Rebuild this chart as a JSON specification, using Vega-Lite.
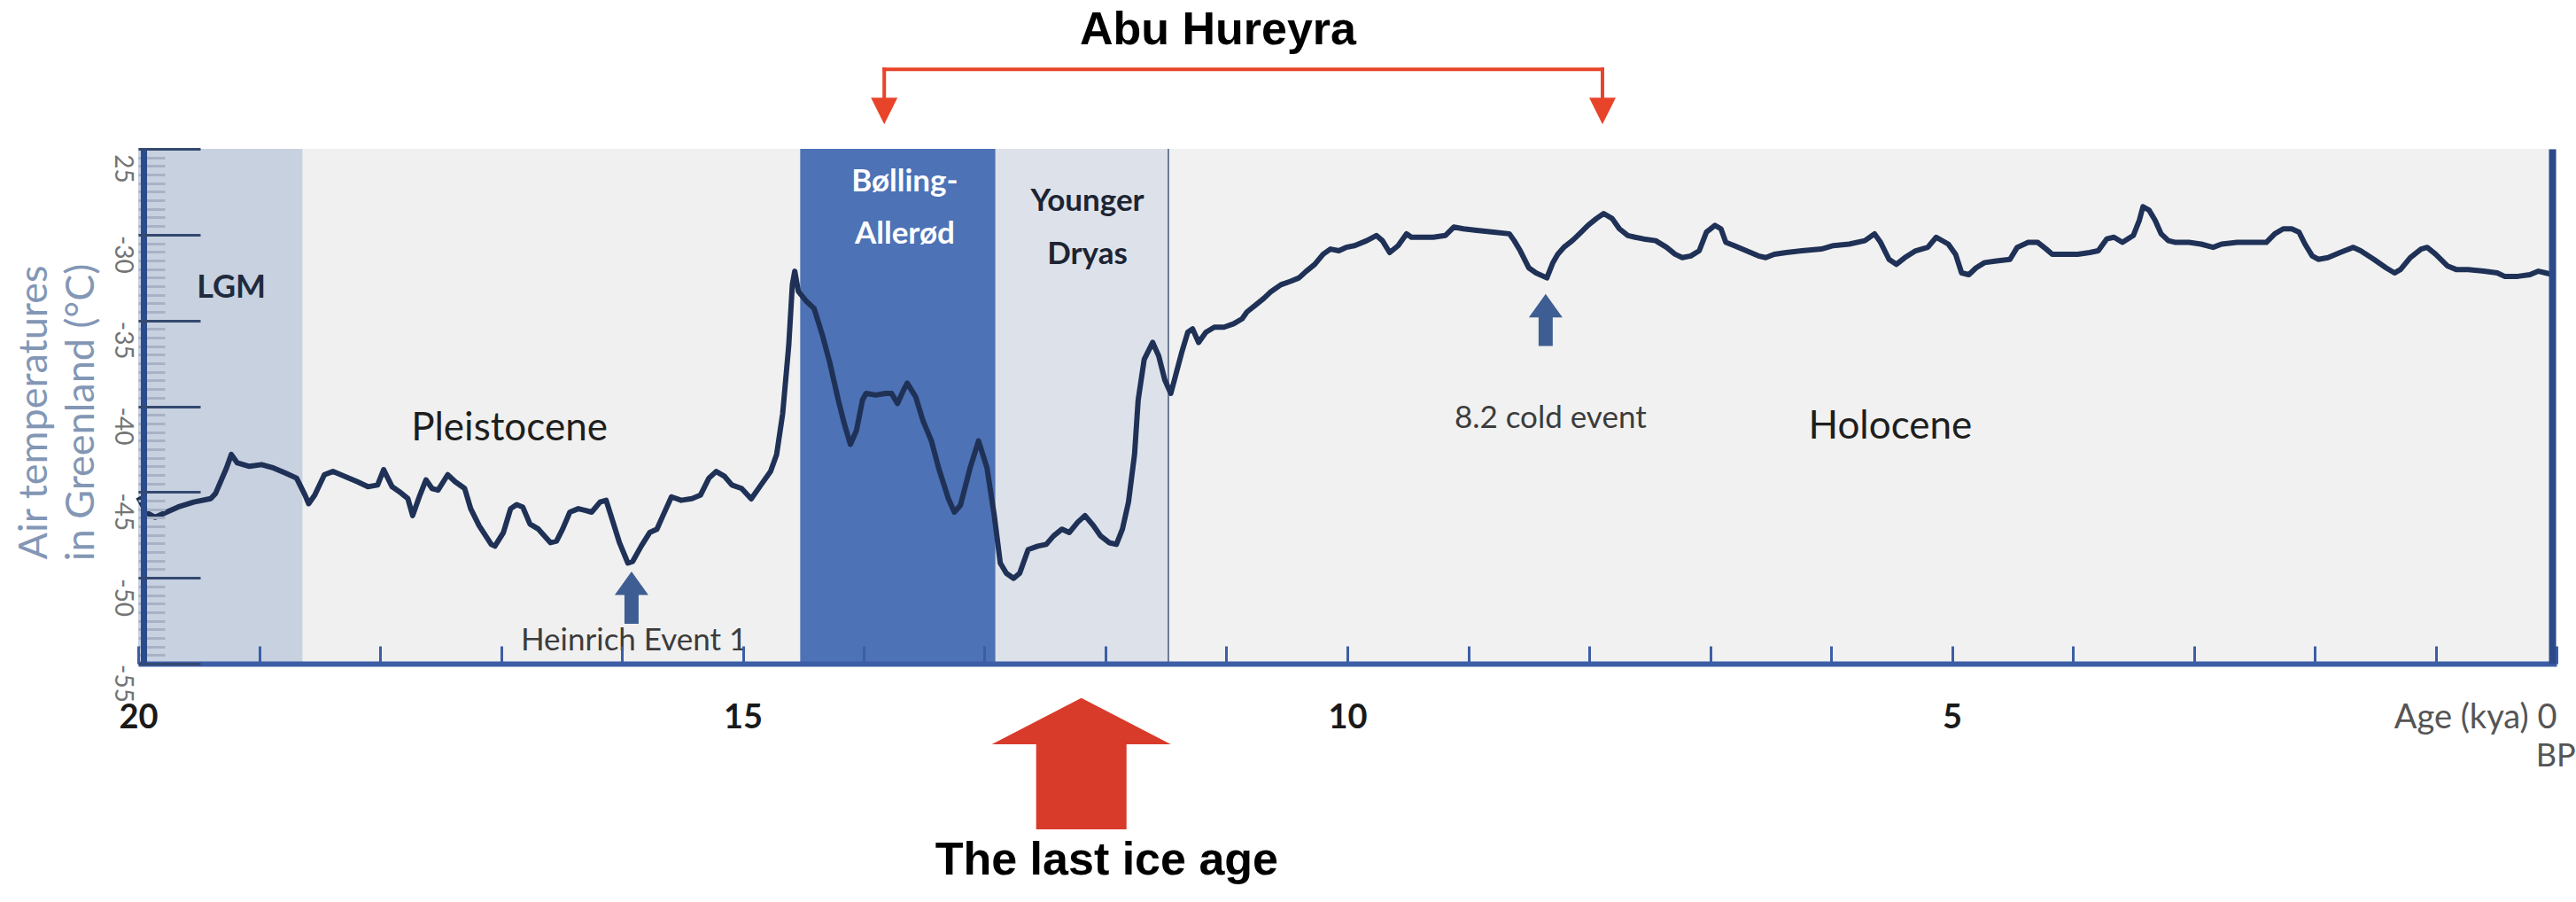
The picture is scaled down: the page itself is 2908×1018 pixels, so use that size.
{
  "$schema": "https://vega.github.io/schema/vega-lite/v6.json",
  "width": 2730,
  "height": 581,
  "autosize": {"type": "none"},
  "padding": {"left": 156, "top": 168, "right": 22, "bottom": 269},
  "background": "#ffffff",
  "config": {"view": {"fill": "#f1f1f1", "stroke": null}, "axis": {"grid": false}, "font": "Lato"},
  "datasets": {
    "periods": [
      {"period": "LGM", "start": 20, "end": 18.64},
      {"period": "Pleistocene", "start": 18.64, "end": 14.525},
      {"period": "Bølling-Allerød", "start": 14.525, "end": 12.91},
      {"period": "Younger Dryas", "start": 12.91, "end": 11.48},
      {"period": "Holocene", "start": 11.48, "end": 0}
    ],
    "temps": [
      {"age": 20.0, "temp": -45.3}, {"age": 19.93, "temp": -46.2}, {"age": 19.86, "temp": -46.47}, {"age": 19.67, "temp": -45.87},
      {"age": 19.54, "temp": -45.58}, {"age": 19.4, "temp": -45.38}, {"age": 19.36, "temp": -45.08}, {"age": 19.27, "temp": -43.6},
      {"age": 19.23, "temp": -42.81}, {"age": 19.18, "temp": -43.3}, {"age": 19.08, "temp": -43.5}, {"age": 18.98, "temp": -43.4},
      {"age": 18.88, "temp": -43.6}, {"age": 18.78, "temp": -43.9}, {"age": 18.69, "temp": -44.19}, {"age": 18.62, "temp": -45.18},
      {"age": 18.59, "temp": -45.68}, {"age": 18.54, "temp": -45.18}, {"age": 18.46, "temp": -43.99}, {"age": 18.39, "temp": -43.8},
      {"age": 18.29, "temp": -44.09}, {"age": 18.19, "temp": -44.39}, {"age": 18.1, "temp": -44.69}, {"age": 18.02, "temp": -44.59},
      {"age": 17.97, "temp": -43.7}, {"age": 17.9, "temp": -44.69}, {"age": 17.84, "temp": -44.98}, {"age": 17.77, "temp": -45.38},
      {"age": 17.73, "temp": -46.37}, {"age": 17.67, "temp": -45.18}, {"age": 17.62, "temp": -44.29}, {"age": 17.57, "temp": -44.79},
      {"age": 17.52, "temp": -44.89}, {"age": 17.44, "temp": -43.99}, {"age": 17.38, "temp": -44.39}, {"age": 17.3, "temp": -44.79},
      {"age": 17.25, "temp": -45.97}, {"age": 17.18, "temp": -46.96}, {"age": 17.08, "temp": -48.05}, {"age": 17.05, "temp": -48.15},
      {"age": 16.98, "temp": -47.36}, {"age": 16.92, "temp": -45.97}, {"age": 16.87, "temp": -45.73}, {"age": 16.82, "temp": -45.87},
      {"age": 16.76, "temp": -46.86}, {"age": 16.69, "temp": -47.16}, {"age": 16.59, "temp": -47.95}, {"age": 16.54, "temp": -47.85},
      {"age": 16.49, "temp": -47.16}, {"age": 16.43, "temp": -46.17}, {"age": 16.36, "temp": -45.97}, {"age": 16.3, "temp": -46.07},
      {"age": 16.25, "temp": -46.17}, {"age": 16.18, "temp": -45.58}, {"age": 16.13, "temp": -45.48}, {"age": 16.09, "temp": -46.37},
      {"age": 16.02, "temp": -47.95}, {"age": 15.95, "temp": -49.14}, {"age": 15.91, "temp": -49.04}, {"age": 15.84, "temp": -48.15},
      {"age": 15.77, "temp": -47.36}, {"age": 15.71, "temp": -47.16}, {"age": 15.66, "temp": -46.37}, {"age": 15.59, "temp": -45.28},
      {"age": 15.51, "temp": -45.48}, {"age": 15.42, "temp": -45.38}, {"age": 15.35, "temp": -45.18}, {"age": 15.28, "temp": -44.19},
      {"age": 15.22, "temp": -43.8}, {"age": 15.15, "temp": -44.09}, {"age": 15.09, "temp": -44.59}, {"age": 15.01, "temp": -44.79},
      {"age": 14.93, "temp": -45.4}, {"age": 14.85, "temp": -44.59}, {"age": 14.77, "temp": -43.8}, {"age": 14.72, "temp": -42.81},
      {"age": 14.67, "temp": -40.43}, {"age": 14.62, "temp": -36.48}, {"age": 14.59, "temp": -32.92}, {"age": 14.57, "temp": -32.13},
      {"age": 14.54, "temp": -33.31}, {"age": 14.47, "temp": -33.91}, {"age": 14.41, "temp": -34.3}, {"age": 14.34, "temp": -35.89},
      {"age": 14.28, "temp": -37.47}, {"age": 14.21, "temp": -39.64}, {"age": 14.16, "temp": -41.03}, {"age": 14.11, "temp": -42.22},
      {"age": 14.06, "temp": -41.42}, {"age": 14.01, "temp": -39.64}, {"age": 13.98, "temp": -39.25}, {"age": 13.9, "temp": -39.35},
      {"age": 13.82, "temp": -39.25}, {"age": 13.77, "temp": -39.25}, {"age": 13.72, "temp": -39.84}, {"age": 13.67, "temp": -39.05},
      {"age": 13.64, "temp": -38.65}, {"age": 13.57, "temp": -39.45}, {"age": 13.51, "temp": -40.83}, {"age": 13.44, "temp": -42.02},
      {"age": 13.38, "temp": -43.6}, {"age": 13.3, "temp": -45.38}, {"age": 13.25, "temp": -46.17}, {"age": 13.2, "temp": -45.77},
      {"age": 13.12, "temp": -43.6}, {"age": 13.05, "temp": -42.02}, {"age": 12.98, "temp": -43.6}, {"age": 12.92, "temp": -46.37},
      {"age": 12.87, "temp": -49.14}, {"age": 12.82, "temp": -49.73}, {"age": 12.76, "temp": -50.03}, {"age": 12.71, "temp": -49.73},
      {"age": 12.64, "temp": -48.35}, {"age": 12.56, "temp": -48.15}, {"age": 12.49, "temp": -48.05}, {"age": 12.43, "temp": -47.56},
      {"age": 12.36, "temp": -47.16}, {"age": 12.3, "temp": -47.36}, {"age": 12.23, "temp": -46.76}, {"age": 12.17, "temp": -46.37},
      {"age": 12.1, "temp": -46.96}, {"age": 12.04, "temp": -47.56}, {"age": 11.97, "temp": -47.95}, {"age": 11.91, "temp": -48.05},
      {"age": 11.86, "temp": -47.16}, {"age": 11.81, "temp": -45.58}, {"age": 11.76, "temp": -42.81}, {"age": 11.73, "temp": -39.64},
      {"age": 11.68, "temp": -37.27}, {"age": 11.61, "temp": -36.28}, {"age": 11.56, "temp": -37.07}, {"age": 11.51, "temp": -38.46},
      {"age": 11.46, "temp": -39.25}, {"age": 11.43, "temp": -38.46}, {"age": 11.37, "temp": -36.87}, {"age": 11.32, "temp": -35.69},
      {"age": 11.28, "temp": -35.49}, {"age": 11.23, "temp": -36.28}, {"age": 11.17, "temp": -35.69}, {"age": 11.1, "temp": -35.39},
      {"age": 11.02, "temp": -35.39}, {"age": 10.94, "temp": -35.19}, {"age": 10.87, "temp": -34.9}, {"age": 10.83, "temp": -34.5},
      {"age": 10.76, "temp": -34.11}, {"age": 10.69, "temp": -33.71}, {"age": 10.63, "temp": -33.31}, {"age": 10.55, "temp": -32.92},
      {"age": 10.47, "temp": -32.72}, {"age": 10.4, "temp": -32.52}, {"age": 10.34, "temp": -32.13}, {"age": 10.27, "temp": -31.73},
      {"age": 10.2, "temp": -31.14}, {"age": 10.14, "temp": -30.84}, {"age": 10.07, "temp": -30.94}, {"age": 10.01, "temp": -30.74},
      {"age": 9.94, "temp": -30.64}, {"age": 9.84, "temp": -30.35}, {"age": 9.76, "temp": -30.05}, {"age": 9.71, "temp": -30.35},
      {"age": 9.65, "temp": -31.04}, {"age": 9.58, "temp": -30.64}, {"age": 9.51, "temp": -29.95}, {"age": 9.47, "temp": -30.15},
      {"age": 9.38, "temp": -30.15}, {"age": 9.29, "temp": -30.15}, {"age": 9.19, "temp": -30.05}, {"age": 9.12, "temp": -29.56},
      {"age": 9.04, "temp": -29.66}, {"age": 8.93, "temp": -29.75}, {"age": 8.79, "temp": -29.85}, {"age": 8.66, "temp": -29.95},
      {"age": 8.62, "temp": -30.35}, {"age": 8.57, "temp": -30.94}, {"age": 8.5, "temp": -31.93}, {"age": 8.44, "temp": -32.23},
      {"age": 8.35, "temp": -32.52}, {"age": 8.3, "temp": -31.63}, {"age": 8.26, "temp": -31.14}, {"age": 8.21, "temp": -30.74},
      {"age": 8.14, "temp": -30.35}, {"age": 8.08, "temp": -29.95}, {"age": 8.01, "temp": -29.46}, {"age": 7.94, "temp": -29.06},
      {"age": 7.88, "temp": -28.77}, {"age": 7.81, "temp": -29.06}, {"age": 7.75, "temp": -29.66}, {"age": 7.68, "temp": -30.05},
      {"age": 7.62, "temp": -30.15}, {"age": 7.55, "temp": -30.25}, {"age": 7.45, "temp": -30.35}, {"age": 7.36, "temp": -30.74},
      {"age": 7.29, "temp": -31.14}, {"age": 7.23, "temp": -31.34}, {"age": 7.16, "temp": -31.24}, {"age": 7.09, "temp": -30.94},
      {"age": 7.03, "temp": -29.85}, {"age": 6.96, "temp": -29.46}, {"age": 6.91, "temp": -29.66}, {"age": 6.87, "temp": -30.45},
      {"age": 6.8, "temp": -30.64}, {"age": 6.7, "temp": -30.94}, {"age": 6.6, "temp": -31.24}, {"age": 6.54, "temp": -31.34},
      {"age": 6.47, "temp": -31.14}, {"age": 6.37, "temp": -31.04}, {"age": 6.24, "temp": -30.94}, {"age": 6.08, "temp": -30.84},
      {"age": 5.98, "temp": -30.64}, {"age": 5.85, "temp": -30.55}, {"age": 5.72, "temp": -30.35}, {"age": 5.64, "temp": -29.95},
      {"age": 5.59, "temp": -30.45}, {"age": 5.52, "temp": -31.44}, {"age": 5.46, "temp": -31.73}, {"age": 5.39, "temp": -31.34},
      {"age": 5.3, "temp": -30.94}, {"age": 5.2, "temp": -30.74}, {"age": 5.13, "temp": -30.15}, {"age": 5.03, "temp": -30.55},
      {"age": 4.97, "temp": -31.14}, {"age": 4.92, "temp": -32.23}, {"age": 4.86, "temp": -32.33}, {"age": 4.8, "temp": -31.93},
      {"age": 4.73, "temp": -31.63}, {"age": 4.63, "temp": -31.53}, {"age": 4.52, "temp": -31.44}, {"age": 4.46, "temp": -30.74},
      {"age": 4.37, "temp": -30.45}, {"age": 4.29, "temp": -30.45}, {"age": 4.22, "temp": -30.84}, {"age": 4.17, "temp": -31.14},
      {"age": 4.07, "temp": -31.14}, {"age": 3.96, "temp": -31.14}, {"age": 3.86, "temp": -31.04}, {"age": 3.79, "temp": -30.94},
      {"age": 3.72, "temp": -30.25}, {"age": 3.66, "temp": -30.15}, {"age": 3.59, "temp": -30.45}, {"age": 3.5, "temp": -30.05},
      {"age": 3.45, "temp": -29.16}, {"age": 3.42, "temp": -28.37}, {"age": 3.37, "temp": -28.57}, {"age": 3.32, "temp": -29.16},
      {"age": 3.27, "temp": -29.95}, {"age": 3.21, "temp": -30.35}, {"age": 3.15, "temp": -30.45}, {"age": 3.04, "temp": -30.45},
      {"age": 2.94, "temp": -30.55}, {"age": 2.84, "temp": -30.74}, {"age": 2.77, "temp": -30.55}, {"age": 2.64, "temp": -30.45},
      {"age": 2.5, "temp": -30.45}, {"age": 2.4, "temp": -30.45}, {"age": 2.33, "temp": -29.95}, {"age": 2.26, "temp": -29.66},
      {"age": 2.19, "temp": -29.66}, {"age": 2.13, "temp": -29.85}, {"age": 2.08, "temp": -30.55}, {"age": 2.02, "temp": -31.24},
      {"age": 1.97, "temp": -31.44}, {"age": 1.89, "temp": -31.34}, {"age": 1.79, "temp": -31.04}, {"age": 1.68, "temp": -30.74},
      {"age": 1.62, "temp": -30.94}, {"age": 1.51, "temp": -31.44}, {"age": 1.41, "temp": -31.93}, {"age": 1.34, "temp": -32.23},
      {"age": 1.29, "temp": -32.03}, {"age": 1.21, "temp": -31.34}, {"age": 1.12, "temp": -30.84}, {"age": 1.07, "temp": -30.74},
      {"age": 1.0, "temp": -31.14}, {"age": 0.9, "temp": -31.83}, {"age": 0.83, "temp": -32.03}, {"age": 0.73, "temp": -32.03},
      {"age": 0.6, "temp": -32.13}, {"age": 0.49, "temp": -32.23}, {"age": 0.43, "temp": -32.43}, {"age": 0.32, "temp": -32.43},
      {"age": 0.22, "temp": -32.33}, {"age": 0.15, "temp": -32.13}, {"age": 0.09, "temp": -32.23}, {"age": 0.05, "temp": -32.3}
    ],
    "labels": [
      {"group": "lgm", "label": "LGM", "age": 19.23, "temp": -33.68},
      {"group": "epoch", "label": "Pleistocene", "age": 16.93, "temp": -42.0},
      {"group": "epoch", "label": "Holocene", "age": 5.51, "temp": -41.89},
      {"group": "event", "label": "Heinrich Event 1", "age": 15.9, "temp": -54.23},
      {"group": "event", "label": "8.2 cold event", "age": 8.32, "temp": -41.29},
      {"group": "ba", "label": "Bølling-\nAllerød", "age": 13.66, "temp": -27.46},
      {"group": "yd", "label": "Younger\nDryas", "age": 12.15, "temp": -28.64},
      {"group": "headline", "label": "Abu Hureyra", "age": 11.07, "temp": -18.91},
      {"group": "headline", "label": "The last ice age", "age": 11.99, "temp": -67.3},
      {"group": "bp", "label": "BP", "age": 0.17, "temp": -61.0}
    ],
    "bracket": [
      {"age": 13.83, "age2": 7.89, "temp": -20.36, "temp2": -20.36},
      {"age": 13.83, "age2": 13.83, "temp": -20.36, "temp2": -22.0},
      {"age": 7.89, "age2": 7.89, "temp": -20.36, "temp2": -22.0}
    ],
    "tips": [
      {"age": 13.83, "temp": -22.79},
      {"age": 7.89, "temp": -22.79}
    ],
    "events": [
      {"event": "Heinrich Event 1", "age": 15.92, "temp": -51.15},
      {"event": "8.2 cold event", "age": 8.36, "temp": -34.97}
    ],
    "iceage": [
      {"label": "The last ice age", "age": 12.2, "temp": -60.83}
    ]
  },
  "resolve": {"axis": {"x": "independent", "y": "independent"}},
  "layer": [
    {
      "data": {"name": "periods"},
      "mark": {"type": "rect"},
      "encoding": {
        "x": {"field": "start", "type": "quantitative", "scale": {"domain": [20, 0], "nice": false, "zero": false}, "axis": null},
        "x2": {"field": "end"},
        "y": {"datum": -55, "type": "quantitative", "scale": {"domain": [-55, -25], "nice": false, "zero": false}, "axis": null},
        "y2": {"datum": -25},
        "color": {"field": "period", "type": "nominal", "legend": null,
          "scale": {"domain": ["LGM", "Pleistocene", "Bølling-Allerød", "Younger Dryas", "Holocene"],
                    "range": ["#c7d1e0", "#f0f0f0", "#4d72b5", "#dde2ea", "#f1f1f1"]}}
      }
    },
    {
      "data": {"name": "periods"},
      "transform": [{"filter": "datum.period == 'Younger Dryas'"}],
      "mark": {"type": "rule", "color": "#6e7c93", "strokeWidth": 2},
      "encoding": {
        "x": {"field": "end", "type": "quantitative", "scale": {"domain": [20, 0], "nice": false, "zero": false}, "axis": null},
        "y": {"datum": -55, "type": "quantitative", "scale": {"domain": [-55, -25], "nice": false, "zero": false}, "axis": null},
        "y2": {"datum": -25}
      }
    },
    {
      "data": {"name": "temps"},
      "mark": {"type": "line", "color": "#1f3156", "strokeWidth": 6, "strokeJoin": "round"},
      "encoding": {
        "x": {"field": "age", "type": "quantitative", "scale": {"domain": [20, 0], "nice": false, "zero": false},
          "axis": {"orient": "bottom", "values": [20, 15, 10, 5, 0], "ticks": false, "domainColor": "#3d5ea6", "domainWidth": 6,
            "labelPadding": 42, "labelFontSize": 38, "labelFont": "Lato", "labelFlush": false, "labelOverlap": false, "labelBound": false, "labelLimit": 0,
            "labelColor": {"condition": {"test": "datum.value == 0", "value": "#555555"}, "value": "#1a1a1a"},
            "labelFontWeight": {"condition": {"test": "datum.value == 0", "value": "normal"}, "value": "bold"},
            "labelAlign": {"condition": {"test": "datum.value == 0", "value": "right"}, "value": "center"},
            "labelExpr": "datum.value == 0 ? 'Age (kya) 0' : datum.label", "title": null, "zindex": 2}},
        "y": {"field": "temp", "type": "quantitative", "scale": {"domain": [-55, -25], "nice": false, "zero": false},
          "axis": {"orient": "left", "values": [-55, -50, -45, -40, -35, -30, -25], "ticks": false, "offset": -6,
            "domainColor": "#2b4b8c", "domainWidth": 7,
            "labelAngle": 90, "labelAlign": "center", "labelBaseline": "middle", "labelPadding": 25, "labelOffset": 22,
            "labelFontSize": 28, "labelFont": "Lato", "labelColor": "#747474", "labelFlush": false, "labelOverlap": false, "labelBound": false,
            "labelExpr": "datum.value == -25 ? '25' : '-' + abs(datum.value)",
            "title": ["Air temperatures", "in Greenland (°C)"], "titleAngle": -90, "titleX": -110, "titleY": 297,
            "titleAlign": "center", "titleBaseline": "alphabetic", "titleFontSize": 45, "titleFontWeight": "normal",
            "titleFont": "Lato", "titleColor": "#8397b5", "titleLineHeight": 53, "zindex": 2}}
      }
    },
    {
      "data": {"name": "labels"},
      "transform": [{"filter": "datum.group == 'lgm'"}],
      "mark": {"type": "text", "font": "Lato", "fontSize": 36, "fontWeight": "bold", "color": "#1f2b3d", "align": "center", "baseline": "alphabetic"},
      "encoding": {
        "x": {"field": "age", "type": "quantitative", "scale": {"domain": [20, 0], "nice": false, "zero": false},
          "axis": {"orient": "bottom", "values": [0, 1, 2, 3, 4, 5, 6, 7, 8, 9, 10, 11, 12, 13, 14, 15, 16, 17, 18, 19, 20],
            "labels": false, "domain": false, "ticks": true, "tickSize": -20, "tickColor": "#3d5ea6", "tickWidth": 3, "title": null, "zindex": 2}},
        "y": {"field": "temp", "type": "quantitative", "scale": {"domain": [-55, -25], "nice": false, "zero": false},
          "axis": {"orient": "left", "values": [-55, -50, -45, -40, -35, -30, -25], "labels": false, "domain": false,
            "tickSize": -70, "tickColor": "#34496f", "tickWidth": 3, "title": null, "zindex": 2}},
        "text": {"field": "label"}
      }
    },
    {
      "data": {"name": "labels"},
      "transform": [{"filter": "datum.group == 'epoch'"}],
      "mark": {"type": "text", "font": "Lato", "fontSize": 44, "color": "#1e1e1e", "align": "center", "baseline": "alphabetic"},
      "encoding": {
        "x": {"field": "age", "type": "quantitative", "scale": {"domain": [20, 0], "nice": false, "zero": false}, "axis": null},
        "y": {"field": "temp", "type": "quantitative", "scale": {"domain": [-55, -25], "nice": false, "zero": false},
          "axis": {"orient": "left", "values": [-55, -54.5, -54, -53.5, -53, -52.5, -52, -51.5, -51, -50.5, -50, -49.5, -49, -48.5, -48, -47.5, -47, -46.5, -46, -45.5, -45, -44.5, -44, -43.5, -43, -42.5, -42, -41.5, -41, -40.5, -40, -39.5, -39, -38.5, -38, -37.5, -37, -36.5, -36, -35.5, -35, -34.5, -34, -33.5, -33, -32.5, -32, -31.5, -31, -30.5, -30, -29.5, -29, -28.5, -28, -27.5, -27, -26.5, -26, -25.5, -25],
            "labels": false, "domain": false, "tickSize": -30, "tickColor": "#a7b2c6", "tickWidth": 3, "title": null, "zindex": 1}},
        "text": {"field": "label"}
      }
    },
    {
      "data": {"name": "labels"},
      "transform": [{"filter": "datum.group == 'event'"}],
      "mark": {"type": "text", "font": "Lato", "fontSize": 35, "color": "#3c3c3c", "align": "center", "baseline": "alphabetic"},
      "encoding": {
        "x": {"field": "age", "type": "quantitative", "scale": {"domain": [20, 0], "nice": false, "zero": false}, "axis": null},
        "y": {"field": "temp", "type": "quantitative", "scale": {"domain": [-55, -25], "nice": false, "zero": false},
          "axis": {"orient": "right", "labels": false, "ticks": false, "domain": true, "domainColor": "#2c4a8a", "domainWidth": 8, "offset": -5, "title": null, "zindex": 2}},
        "text": {"field": "label"}
      }
    },
    {
      "data": {"name": "labels"},
      "transform": [{"filter": "datum.group == 'ba'"}],
      "mark": {"type": "text", "font": "Lato", "fontSize": 35, "fontWeight": "bold", "color": "#ffffff", "align": "center", "baseline": "alphabetic", "lineBreak": "\n", "lineHeight": 59},
      "encoding": {
        "x": {"field": "age", "type": "quantitative", "scale": {"domain": [20, 0], "nice": false, "zero": false}, "axis": null},
        "y": {"field": "temp", "type": "quantitative", "scale": {"domain": [-55, -25], "nice": false, "zero": false}, "axis": null},
        "text": {"field": "label"}
      }
    },
    {
      "data": {"name": "labels"},
      "transform": [{"filter": "datum.group == 'yd'"}],
      "mark": {"type": "text", "font": "Lato", "fontSize": 35, "fontWeight": "bold", "color": "#1c2433", "align": "center", "baseline": "alphabetic", "lineBreak": "\n", "lineHeight": 60},
      "encoding": {
        "x": {"field": "age", "type": "quantitative", "scale": {"domain": [20, 0], "nice": false, "zero": false}, "axis": null},
        "y": {"field": "temp", "type": "quantitative", "scale": {"domain": [-55, -25], "nice": false, "zero": false}, "axis": null},
        "text": {"field": "label"}
      }
    },
    {
      "data": {"name": "events"},
      "mark": {"type": "point", "filled": true, "color": "#3e5d93", "opacity": 1, "size": 1444,
        "shape": "M0,-1.55L1,-0.15L0.42,-0.15L0.42,1.55L-0.42,1.55L-0.42,-0.15L-1,-0.15Z"},
      "encoding": {
        "x": {"field": "age", "type": "quantitative", "scale": {"domain": [20, 0], "nice": false, "zero": false}, "axis": null},
        "y": {"field": "temp", "type": "quantitative", "scale": {"domain": [-55, -25], "nice": false, "zero": false}, "axis": null}
      }
    },
    {
      "data": {"name": "bracket"},
      "mark": {"type": "rule", "color": "#e8442a", "strokeWidth": 4, "strokeCap": "square"},
      "encoding": {
        "x": {"field": "age", "type": "quantitative", "scale": {"domain": [20, 0], "nice": false, "zero": false}, "axis": null},
        "x2": {"field": "age2"},
        "y": {"field": "temp", "type": "quantitative", "scale": {"domain": [-55, -25], "nice": false, "zero": false}, "axis": null},
        "y2": {"field": "temp2"}
      }
    },
    {
      "data": {"name": "tips"},
      "mark": {"type": "point", "filled": true, "color": "#e8442a", "opacity": 1, "size": 900, "shape": "M-1,-1L1,-1L0,1Z"},
      "encoding": {
        "x": {"field": "age", "type": "quantitative", "scale": {"domain": [20, 0], "nice": false, "zero": false}, "axis": null},
        "y": {"field": "temp", "type": "quantitative", "scale": {"domain": [-55, -25], "nice": false, "zero": false}, "axis": null}
      }
    },
    {
      "data": {"name": "iceage"},
      "mark": {"type": "point", "filled": true, "color": "#d83b2a", "opacity": 1, "size": 40804,
        "shape": "M0,-0.733L1,-0.218L0.505,-0.218L0.505,0.733L-0.505,0.733L-0.505,-0.218L-1,-0.218Z"},
      "encoding": {
        "x": {"field": "age", "type": "quantitative", "scale": {"domain": [20, 0], "nice": false, "zero": false}, "axis": null},
        "y": {"field": "temp", "type": "quantitative", "scale": {"domain": [-55, -25], "nice": false, "zero": false}, "axis": null}
      }
    },
    {
      "data": {"name": "labels"},
      "transform": [{"filter": "datum.group == 'headline'"}],
      "mark": {"type": "text", "font": "Liberation Sans", "fontSize": 52, "fontWeight": "bold", "color": "#000000", "align": "center", "baseline": "alphabetic"},
      "encoding": {
        "x": {"field": "age", "type": "quantitative", "scale": {"domain": [20, 0], "nice": false, "zero": false}, "axis": null},
        "y": {"field": "temp", "type": "quantitative", "scale": {"domain": [-55, -25], "nice": false, "zero": false}, "axis": null},
        "text": {"field": "label"}
      }
    },
    {
      "data": {"name": "labels"},
      "transform": [{"filter": "datum.group == 'bp'"}],
      "mark": {"type": "text", "font": "Lato", "fontSize": 36, "color": "#555555", "align": "left", "baseline": "alphabetic"},
      "encoding": {
        "x": {"field": "age", "type": "quantitative", "scale": {"domain": [20, 0], "nice": false, "zero": false}, "axis": null},
        "y": {"field": "temp", "type": "quantitative", "scale": {"domain": [-55, -25], "nice": false, "zero": false}, "axis": null},
        "text": {"field": "label"}
      }
    }
  ]
}
